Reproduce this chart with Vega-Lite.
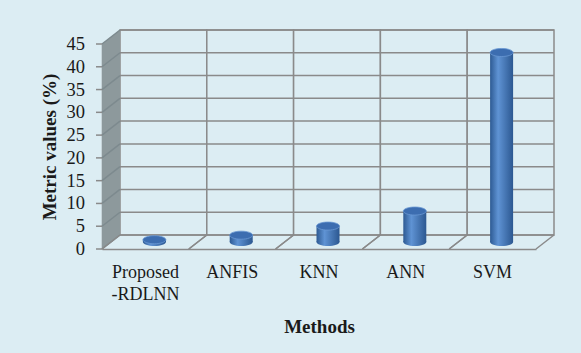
{
  "$schema": "https://vega.github.io/schema/vega-lite/v6.json",
  "width": 434,
  "height": 205,
  "autosize": {"type": "none"},
  "padding": {"left": 102, "top": 44, "right": 45, "bottom": 104},
  "background": "#dcedf3",
  "config": {
    "view": {"stroke": null},
    "font": "Liberation Serif",
    "axis": {"grid": false},
    "axisY": {
      "titleFont": "Liberation Serif",
      "titleFontSize": 19,
      "titleFontWeight": "bold",
      "titleColor": "#1a1a1a",
      "titlePadding": 43,
      "labels": false,
      "ticks": false,
      "domainColor": "#8a8a8a",
      "domainWidth": 1.5
    },
    "axisX": {
      "titleFont": "Liberation Serif",
      "titleFontSize": 19,
      "titleFontWeight": "bold",
      "titleColor": "#1a1a1a",
      "titlePadding": 14,
      "labelFont": "Liberation Serif",
      "labelFontSize": 18,
      "labelColor": "#1a1a1a",
      "labelAngle": 0,
      "labelPadding": 14,
      "labelLineHeight": 22,
      "ticks": false,
      "domainColor": "#8a8a8a",
      "domainWidth": 1.5
    }
  },
  "datasets": {
    "methods": [
      {"method": "Proposed-RDLNN", "value": 0.5},
      {"method": "ANFIS", "value": 1.5},
      {"method": "KNN", "value": 3.5},
      {"method": "ANN", "value": 6.8},
      {"method": "SVM", "value": 41.6}
    ],
    "grid": [
      {"level": 0}, {"level": 5}, {"level": 10}, {"level": 15}, {"level": 20},
      {"level": 25}, {"level": 30}, {"level": 35}, {"level": 40}, {"level": 45}
    ]
  },
  "encoding": {
    "x": {
      "field": "method",
      "type": "nominal",
      "sort": null,
      "scale": {"paddingInner": 0, "paddingOuter": 0},
      "axis": {
        "title": "Methods",
        "labelExpr": "datum.label == 'Proposed-RDLNN' ? ['Proposed', '-RDLNN'] : datum.label"
      }
    }
  },
  "layer": [
    {
      "description": "back wall cells, their outlines give the vertical grid",
      "data": {"name": "methods"},
      "mark": {
        "type": "rect",
        "fill": "#dcedf3",
        "stroke": "#8a8a8a",
        "strokeWidth": 1.5,
        "xOffset": 18,
        "x2Offset": 18,
        "yOffset": -14,
        "y2Offset": -14
      },
      "encoding": {
        "y": {
          "datum": 45,
          "type": "quantitative",
          "scale": {"domain": [0, 45], "nice": false},
          "axis": {"title": "Metric values (%)"}
        },
        "y2": {"datum": 0}
      }
    },
    {
      "description": "horizontal grid on the back wall",
      "data": {"name": "grid"},
      "mark": {
        "type": "rule",
        "stroke": "#8a8a8a",
        "strokeWidth": 1.5,
        "xOffset": 18,
        "x2Offset": 18,
        "yOffset": -14
      },
      "encoding": {
        "x": {"value": 0},
        "x2": {"value": "width"},
        "y": {"field": "level", "type": "quantitative", "title": "Metric values (%)"}
      }
    },
    {
      "description": "left side wall",
      "data": {"values": [{"wall": "left"}]},
      "mark": {
        "type": "point",
        "filled": true,
        "shape": "M-0.0818,-0.8682L0.0818,-0.9955L0.0818,0.8682L-0.0818,0.9955Z",
        "size": 48400,
        "fill": "#8d999c",
        "opacity": 1,
        "strokeWidth": 0,
        "xOffset": 9,
        "yOffset": -7
      },
      "encoding": {
        "x": {"value": 0},
        "y": {"datum": 22.5}
      }
    },
    {
      "description": "grid continued across the side wall",
      "data": {"name": "grid"},
      "mark": {
        "type": "rule",
        "stroke": "#7d8a8e",
        "strokeWidth": 1.5,
        "x2Offset": 18,
        "y2Offset": -14
      },
      "encoding": {
        "x": {"value": 0},
        "x2": {"value": 0},
        "y": {"field": "level", "type": "quantitative", "title": "Metric values (%)"},
        "y2": {"field": "level"}
      }
    },
    {
      "description": "y ticks on the front edge of the side wall",
      "data": {"name": "grid"},
      "mark": {
        "type": "rule",
        "stroke": "#8a8a8a",
        "strokeWidth": 1.5,
        "xOffset": -6
      },
      "encoding": {
        "x": {"value": 0},
        "x2": {"value": 0},
        "y": {"field": "level", "type": "quantitative", "title": "Metric values (%)"},
        "y2": {"field": "level"}
      }
    },
    {
      "description": "y tick labels",
      "data": {"name": "grid"},
      "mark": {
        "type": "text",
        "align": "right",
        "baseline": "middle",
        "font": "Liberation Serif",
        "fontSize": 18.5,
        "color": "#1a1a1a",
        "dx": -17
      },
      "encoding": {
        "x": {"value": 0},
        "y": {"field": "level", "type": "quantitative", "title": "Metric values (%)"},
        "text": {"field": "level", "type": "quantitative"}
      }
    },
    {
      "description": "floor dividers, left edge of each category",
      "data": {"name": "methods"},
      "mark": {
        "type": "rule",
        "stroke": "#8a8a8a",
        "strokeWidth": 1.5,
        "x2Offset": 18,
        "y2Offset": -14
      },
      "encoding": {
        "x": {"field": "method", "type": "nominal", "sort": null, "bandPosition": 0},
        "x2": {"field": "method", "bandPosition": 0},
        "y": {"datum": 0},
        "y2": {"datum": 0}
      }
    },
    {
      "description": "floor dividers, right edge of each category",
      "data": {"name": "methods"},
      "mark": {
        "type": "rule",
        "stroke": "#8a8a8a",
        "strokeWidth": 1.5,
        "x2Offset": 18,
        "y2Offset": -14
      },
      "encoding": {
        "x": {"field": "method", "type": "nominal", "sort": null, "bandPosition": 1},
        "x2": {"field": "method", "bandPosition": 1},
        "y": {"datum": 0},
        "y2": {"datum": 0}
      }
    },
    {
      "description": "cylinder base",
      "data": {"name": "methods"},
      "mark": {
        "type": "point",
        "filled": true,
        "shape": "M-1,0A1,0.35,0,1,0,1,0A1,0.35,0,1,0,-1,0Z",
        "size": 529,
        "opacity": 1,
        "strokeWidth": 0,
        "xOffset": 9,
        "yOffset": -7,
        "fill": {
          "gradient": "linear", "x1": 0, "y1": 0, "x2": 1, "y2": 0,
          "stops": [
            {"offset": 0, "color": "#2d5a93"},
            {"offset": 0.35, "color": "#5f93d4"},
            {"offset": 1, "color": "#2c5891"}
          ]
        }
      },
      "encoding": {
        "y": {"datum": 0}
      }
    },
    {
      "description": "cylinder body",
      "data": {"name": "methods"},
      "mark": {
        "type": "bar",
        "width": {"band": 0.265},
        "xOffset": 9,
        "yOffset": -7,
        "y2Offset": -7,
        "fill": {
          "gradient": "linear", "x1": 0, "y1": 0, "x2": 1, "y2": 0,
          "stops": [
            {"offset": 0, "color": "#2d5a93"},
            {"offset": 0.35, "color": "#5f93d4"},
            {"offset": 1, "color": "#2c5891"}
          ]
        }
      },
      "encoding": {
        "y": {"field": "value", "type": "quantitative", "title": "Metric values (%)"},
        "y2": {"datum": 0}
      }
    },
    {
      "description": "cylinder top",
      "data": {"name": "methods"},
      "mark": {
        "type": "point",
        "filled": true,
        "shape": "M-1,0A1,0.35,0,1,0,1,0A1,0.35,0,1,0,-1,0Z",
        "size": 529,
        "opacity": 1,
        "fill": "#3c6db0",
        "stroke": "#6a98d3",
        "strokeWidth": 0.8,
        "xOffset": 9,
        "yOffset": -7
      },
      "encoding": {
        "y": {"field": "value", "type": "quantitative", "title": "Metric values (%)"}
      }
    }
  ]
}
